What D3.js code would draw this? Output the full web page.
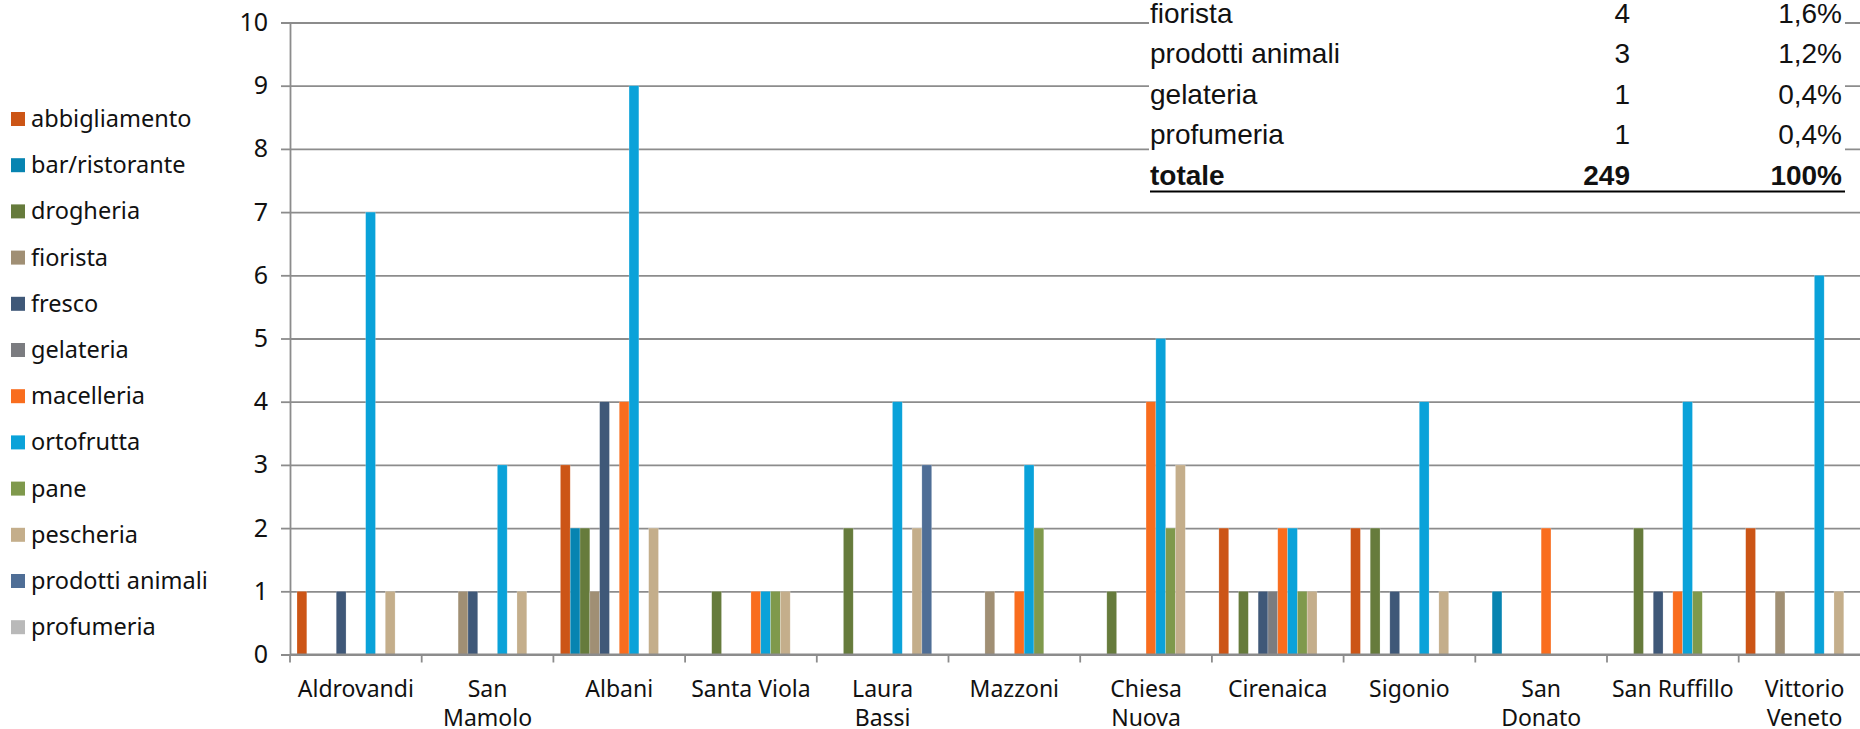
<!DOCTYPE html>
<html>
<head>
  <meta charset="utf-8">
  <title>Esercizi per quartiere</title>
  <style type="text/css">
    body { margin: 0; background: #fff; }
    svg { display: block; }
    text { fill: #111; }
  </style>
</head>
<body>

<div id="chart"></div>

<script src="https://d3js.org/d3.v7.min.js"></script>
<script type="text/javascript">
var width = 1860;
var height = 729;

// districts (x axis), "\n" marks the wrapped labels
var categories = ["Aldrovandi", "San\nMamolo", "Albani", "Santa Viola", "Laura\nBassi", "Mazzoni",
  "Chiesa\nNuova", "Cirenaica", "Sigonio", "San\nDonato", "San Ruffillo", "Vittorio\nVeneto"];

var seriesNames = ["abbigliamento", "bar/ristorante", "drogheria", "fiorista", "fresco", "gelateria",
  "macelleria", "ortofrutta", "pane", "pescheria", "prodotti animali", "profumeria"];
var seriesColors = ["#cc5516", "#0784b1", "#667b3c", "#a08f74", "#3f5878", "#7b7c80",
  "#f96d1e", "#0aa2d9", "#7f994c", "#c4ae8b", "#4f6e96", "#b9b9b9"];

// values per series, one per district
var abbigliamento   = [1, 0, 3, 0, 0, 0, 0, 2, 2, 0, 0, 2];
var barRistorante   = [0, 0, 2, 0, 0, 0, 0, 0, 0, 1, 0, 0];
var drogheria       = [0, 0, 2, 1, 2, 0, 1, 1, 2, 0, 2, 0];
var fiorista        = [0, 1, 1, 0, 0, 1, 0, 0, 0, 0, 0, 1];
var fresco          = [1, 1, 4, 0, 0, 0, 0, 1, 1, 0, 1, 0];
var gelateria       = [0, 0, 0, 0, 0, 0, 0, 1, 0, 0, 0, 0];
var macelleria      = [0, 0, 4, 1, 0, 1, 4, 2, 0, 2, 1, 0];
var ortofrutta      = [7, 3, 9, 1, 4, 3, 5, 2, 4, 0, 4, 6];
var pane            = [0, 0, 0, 1, 0, 2, 2, 1, 0, 0, 1, 0];
var pescheria       = [1, 1, 2, 1, 2, 0, 3, 1, 1, 0, 0, 1];
var prodottiAnimali = [0, 0, 0, 0, 3, 0, 0, 0, 0, 0, 0, 0];
var profumeria      = [0, 0, 0, 0, 0, 0, 0, 0, 0, 0, 0, 0];

var seriesValues = [abbigliamento, barRistorante, drogheria, fiorista, fresco, gelateria,
  macelleria, ortofrutta, pane, pescheria, prodottiAnimali, profumeria];

var yTicks = [0, 1, 2, 3, 4, 5, 6, 7, 8, 9, 10];

// summary table (top right)
var tableLabels = ["fiorista", "prodotti animali", "gelateria", "profumeria", "totale"];
var tableCounts = ["4", "3", "1", "1", "249"];
var tablePercents = ["1,6%", "1,2%", "0,4%", "0,4%", "100%"];

var font = "'Noto Sans', 'DejaVu Sans', sans-serif";
var narrow = "'Liberation Sans Narrow', 'Arial Narrow', 'Liberation Sans', sans-serif";
var gridColor = "#8c8c8c";

var plotLeft = 290, catWidth = 131.7;
var plotRight = plotLeft + categories.length * catWidth;   // runs past the picture edge

var x0 = d3.scaleBand()
  .domain(categories)
  .range([plotLeft, plotRight]);
var x1 = d3.scaleBand()
  .domain(seriesNames)
  .range([7, catWidth - 7]);
var y = d3.scaleLinear()
  .domain([0, 10])
  .range([654.5, 22.5]);

var svg = d3.select("#chart")
  .append("svg")
  .attr("width", width)
  .attr("height", height);

// gridlines + y axis
var yAxis = d3.axisLeft(y)
  .tickValues(yTicks)
  .tickSize(9)
  .tickPadding(13)
  .tickFormat(d3.format("d"));

var gy = svg.append("g")
  .attr("transform", `translate(${plotLeft},0)`)
  .call(yAxis);
gy.select(".domain").attr("stroke", gridColor).attr("stroke-width", 1.8);
gy.selectAll(".tick line").attr("stroke", gridColor).attr("stroke-width", 1.8);
gy.selectAll(".tick text")
  .attr("font-family", font)
  .attr("font-size", "25px")
  .attr("fill", "#111");
gy.selectAll(".tick")
  .append("line")
  .attr("x1", 0)
  .attr("x2", width)
  .attr("stroke", gridColor)
  .attr("stroke-width", 1.8);

// bars
var groups = svg.append("g")
  .selectAll("g")
  .data(categories)
  .enter()
  .append("g")
  .attr("transform", d => `translate(${x0(d)},0)`);

groups.selectAll("rect")
  .data((d, ci) => seriesNames.map((s, si) => ({s: s, v: seriesValues[si][ci], c: seriesColors[si]})))
  .enter()
  .filter(d => d.v > 0)
  .append("rect")
  .attr("x", d => x1(d.s))
  .attr("y", d => y(d.v))
  .attr("width", x1.bandwidth())
  .attr("height", d => y(0) - y(d.v))
  .attr("fill", d => d.c)
  .attr("stroke", "#fff")
  .attr("stroke-opacity", 0.35)
  .attr("stroke-width", 0.6);

// x axis
var gx = svg.append("g")
  .attr("transform", `translate(0,${y(0)})`);
gx.append("line")
  .attr("x1", plotLeft)
  .attr("x2", width)
  .attr("stroke", gridColor)
  .attr("stroke-width", 1.8);
gx.selectAll(".xtick")
  .data(d3.range(categories.length + 1))
  .enter()
  .append("line")
  .attr("x1", i => plotLeft + i * catWidth)
  .attr("x2", i => plotLeft + i * catWidth)
  .attr("y1", 0)
  .attr("y2", 8)
  .attr("stroke", gridColor)
  .attr("stroke-width", 1.8);

var labels = gx.selectAll(".xlabel")
  .data(categories)
  .enter()
  .append("text")
  .attr("text-anchor", "middle")
  .attr("font-family", font)
  .attr("font-size", "23px")
  .attr("fill", "#111");
labels.selectAll("tspan")
  .data(d => d.split("\n").map(t => ({t: t, x: x0(d) + x0.bandwidth() / 2})))
  .enter()
  .append("tspan")
  .attr("x", d => d.x)
  .attr("y", (d, i) => 42 + i * 29)
  .text(d => d.t);

// legend
var legend = svg.append("g")
  .selectAll("g")
  .data(seriesNames)
  .enter()
  .append("g")
  .attr("transform", (d, i) => `translate(11,${119 + i * 46.2})`);
legend.append("rect")
  .attr("x", 0)
  .attr("y", -7)
  .attr("width", 14)
  .attr("height", 14)
  .attr("fill", (d, i) => seriesColors[i]);
legend.append("text")
  .attr("x", 20)
  .attr("y", 8)
  .attr("font-family", font)
  .attr("font-size", "23.5px")
  .attr("fill", "#111")
  .text(d => d);

// summary table sitting over the top right of the chart
var table = svg.append("g");
table.append("rect")
  .attr("x", 1149)
  .attr("y", 0)
  .attr("width", 1845 - 1149)
  .attr("height", 193)
  .attr("fill", "#fff");

var rows = table.selectAll("g")
  .data(tableLabels)
  .enter()
  .append("g")
  .attr("transform", (d, i) => `translate(0,${23 + i * 40.4})`)
  .attr("font-family", narrow)
  .attr("font-size", "28px")
  .attr("font-weight", (d, i) => i === tableLabels.length - 1 ? "bold" : "normal");
rows.append("text")
  .attr("x", 1150)
  .text(d => d);
rows.append("text")
  .attr("x", 1630)
  .attr("text-anchor", "end")
  .text((d, i) => tableCounts[i]);
rows.append("text")
  .attr("x", 1842)
  .attr("text-anchor", "end")
  .text((d, i) => tablePercents[i]);

table.append("line")
  .attr("x1", 1150)
  .attr("x2", 1845)
  .attr("y1", 191.5)
  .attr("y2", 191.5)
  .attr("stroke", "#000")
  .attr("stroke-width", 2.2);
</script>
</body>
</html>
